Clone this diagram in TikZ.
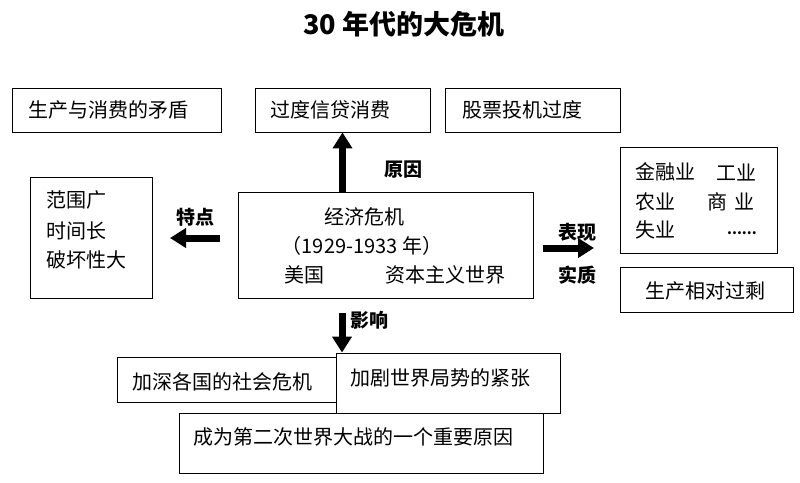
\documentclass[tikz,border=0pt]{standalone}
\usepackage{fontspec}
\setmainfont{Noto Sans CJK SC}
\usetikzlibrary{arrows.meta}
\begin{document}
\begin{tikzpicture}[x=1pt,y=-1pt,
  box/.style={draw=black, line width=0.9pt, fill=white, rectangle, inner sep=0pt},
  txt/.style={inner sep=0pt, anchor=west, font=\fontsize{20}{24}\selectfont},
  lbl/.style={inner sep=0pt, font=\fontsize{19}{22}\selectfont\bfseries},
  bigarrow/.style={line width=7pt, -{Triangle[length=16pt,width=19pt]}}]
\useasboundingbox (0,0) rectangle (800,482);
% title
\node[inner sep=0pt, font=\fontsize{27}{30}\selectfont\bfseries] (title) at (404,24) {30 年代的大危机};
% top boxes
\node[box, minimum width=209pt, minimum height=44pt] (A) at (116.5,110) {};
\node[txt] (tA) at (28,110) {生产与消费的矛盾};
\node[box, minimum width=175pt, minimum height=44pt] (B) at (342.5,110) {};
\node[txt] (tB) at (270,110) {过度信贷消费};
\node[box, minimum width=175pt, minimum height=44pt] (C) at (532.5,110) {};
\node[txt] (tC) at (462,110) {股票投机过度};
% left box
\node[box, minimum width=122pt, minimum height=121pt] (L) at (91,237.5) {};
\node[txt] (tL1) at (46,200) {范围广};
\node[txt] (tL2) at (46,231) {时间长};
\node[txt] (tL3) at (46,260) {破坏性大};
% central box
\node[box, minimum width=295pt, minimum height=106pt] (M) at (385.5,245) {};
\node[inner sep=0pt, font=\fontsize{20}{24}\selectfont] (tM1) at (364,217) {经济危机};
\node[inner sep=0pt, font=\fontsize{20}{24}\selectfont] (tM2) at (362,246) {（1929-1933 年）};
\node[txt] (tM3) at (284,275) {美国};
\node[txt] (tM4) at (385,275) {资本主义世界};
% right boxes
\node[box, minimum width=157pt, minimum height=106pt] (R1) at (698.5,200) {};
\node[txt] (tR1) at (635,172) {金融业};
\node[txt] (tR2) at (716,172) {工业};
\node[txt] (tR3) at (635,202) {农业};
\node[txt] (tR4) at (707,202) {商\hspace{7pt}业};
\node[txt] (tR5) at (635,230) {失业};
\node[inner sep=0pt, anchor=west, font=\fontsize{14}{14}\selectfont\bfseries] (tR6) at (727,233) {......};
\node[box, minimum width=173pt, minimum height=45pt] (R2) at (706.5,289.5) {};
\node[txt] (tR7) at (645,291) {生产相对过剩};
% bottom boxes
\node[box, minimum width=220pt, minimum height=45pt] (D1) at (227,379.5) {};
\node[txt] (tD1) at (132,382) {加深各国的社会危机};
\node[box, minimum width=224pt, minimum height=60pt] (D2) at (448,383) {};
\node[txt] (tD2) at (350,378) {加剧世界局势的紧张};
\node[box, minimum width=364pt, minimum height=60pt] (D3) at (361,443) {};
\node[txt] (tD3) at (193,437) {成为第二次世界大战的一个重要原因};
% arrow labels
\node[lbl] (l1) at (403,170) {原因};
\node[lbl] (l2) at (195,217) {特点};
\node[lbl] (l3) at (577,232) {表现};
\node[lbl] (l4) at (577,275) {实质};
\node[lbl] (l5) at (369,320) {影响};
% arrows
\coordinate (ls) at (220,238);
\coordinate (le) at (170,238);
\coordinate (rs) at (543,248);
\coordinate (re) at (594,248);
\coordinate (ds) at (342,313);
\draw[bigarrow] (B.south |- M.north) -- (B.south);
\draw[bigarrow] (ls) -- (le);
\draw[bigarrow] (rs) -- (re);
\draw[bigarrow] (ds) -- (ds |- D2.north);
\end{tikzpicture}
\end{document}
